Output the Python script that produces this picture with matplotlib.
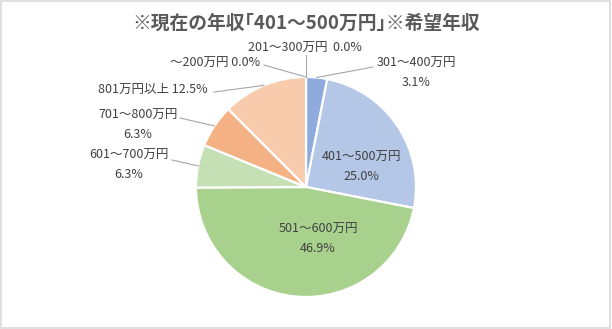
import numpy as np
import matplotlib
matplotlib.use("Agg")
import matplotlib.pyplot as plt
from matplotlib.patches import Rectangle

plt.rcParams["font.family"] = ["Noto Sans CJK JP", "DejaVu Sans"]

# -------------------------
# Data
# -------------------------
title = "※現在の年収｢401～500万円｣※希望年収"
categories = ["～200万円", "201～300万円", "301～400万円", "401～500万円",
              "501～600万円", "601～700万円", "701～800万円", "801万円以上"]
shares = [0.0, 0.0, 3.1, 25.0, 46.9, 6.3, 6.3, 12.5]
colors = ["#5B9BD5", "#A5A5A5", "#8FAADC", "#B4C7E7",
          "#A9D18E", "#C5E0B4", "#F4B183", "#F8CBAD"]

# label placement in pixels (x, y from top), alignment, one-line or two-line
label_pos = {
    "～200万円":    (260, 63, "right", "inline"),
    "201～300万円": (305, 48, "center", "inline"),
    "301～400万円": (416, 73, "center", "stack"),
    "401～500万円": (361, 167, "center", "stack"),
    "501～600万円": (318, 239, "center", "stack"),
    "601～700万円": (129, 165, "center", "stack"),
    "701～800万円": (138, 125, "center", "stack"),
    "801万円以上":  (208, 89, "right", "inline"),
}
# leader line start points (pixels) for outside labels
leader_start = {
    "～200万円":    (264, 65),
    "201～300万円": (306, 55),
    "301～400万円": (373, 67),
    "601～700万円": (172, 160),
    "701～800万円": (180, 118),
    "801万円以上":  (214, 92),
}

W, H = 612, 329
cx, cy, r = 306, 187, 110
text_color = "#404040"

fig = plt.figure(figsize=(W / 100, H / 100), dpi=100)
ax = fig.add_axes([0, 0, 1, 1])

wedges, _ = ax.pie(shares, colors=colors, startangle=90, counterclock=False,
                   center=(cx, H - cy), radius=r,
                   wedgeprops=dict(edgecolor="white", linewidth=1.6))
ax.set_xlim(0, W)
ax.set_ylim(0, H)
ax.set_aspect("auto")
ax.axis("off")

fig.text(0.5, 1 - 23 / H, title, ha="center", va="center",
         fontsize=13.5, fontweight="bold", color="#595959")

total = sum(shares)
start = 90.0
for name, val in zip(categories, shares):
    sweep = val / total * 360
    mid = np.deg2rad(start - sweep / 2)
    start -= sweep
    x, y, ha, mode = label_pos[name]
    sep = "  " if name == "201～300万円" else " "
    txt = f"{name}{sep}{val:.1f}%" if mode == "inline" else f"{name}\n{val:.1f}%"
    ax.text(x, H - y, txt, ha=ha, va="center", fontsize=9,
            color=text_color, linespacing=1.55)
    if name in leader_start:
        sx, sy = leader_start[name]
        ex = cx + r * np.cos(mid)
        ey = (H - cy) + r * np.sin(mid)
        ax.plot([sx, ex], [H - sy, ey], color="#A6A6A6", lw=0.8)

# chart border
fig.patches.append(Rectangle((0.002, 0.003), 0.995, 0.994, transform=fig.transFigure,
                             fill=False, edgecolor="#D9D9D9", lw=1.2))

fig.savefig("out.png", dpi=100, facecolor="white")
